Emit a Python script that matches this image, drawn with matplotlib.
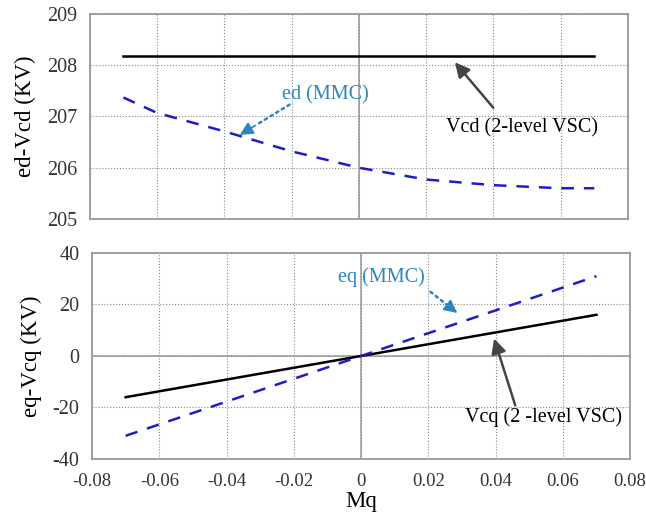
import numpy as np
import matplotlib.pyplot as plt

plt.rcParams['font.family'] = ['Liberation Serif', 'DejaVu Serif']
plt.rcParams['axes.unicode_minus'] = False

# data
mq = [-0.07, -0.06, -0.04, -0.02, 0.0, 0.02, 0.04, 0.06, 0.07]
ed_mmc = [207.37, 207.07, 206.71, 206.32, 206.0, 205.77, 205.66, 205.6, 205.6]
vcd_2l = [208.18] * len(mq)

mq_q = [-0.07, 0.07]
eq_mmc = [-31, 31]
vcq_2l = [-16, 16]

xticks = [-0.08, -0.06, -0.04, -0.02, 0, 0.02, 0.04, 0.06, 0.08]
xlabels = ['-0.08', '-0.06', '-0.04', '-0.02', '0', '0.02', '0.04', '0.06', '0.08']

blue = '#1c1cc8'
teal = '#2a86bd'
arrow_gray = '#444444'

fig = plt.figure(figsize=(6.46, 5.16), dpi=100)
ax1 = fig.add_axes([0.139, 0.5756, 0.833, 0.3973])
ax2 = fig.add_axes([0.1424, 0.1105, 0.833, 0.3992])


def style(ax):
    ax.set_xlim(-0.08, 0.08)
    ax.set_xticks(xticks)
    ax.grid(True, color='#888888', linestyle=':', linewidth=0.8)
    ax.axvline(0, color='#aaaaaa', lw=1.3, zorder=1)
    for s in ax.spines.values():
        s.set_color('#999999')
        s.set_linewidth(1.3)
    ax.tick_params(length=0, labelsize=14.5, labelcolor='#333333')
    ax.tick_params(axis='y', pad=9)
    ax.tick_params(axis='x', pad=10, labelsize=13.5)


def dotted_arrow(ax, tip, tail, color):
    # dotted shaft plus a solid head
    k = 0.3
    mid = (tip[0] + (tail[0] - tip[0]) * k, tip[1] + (tail[1] - tip[1]) * k)
    ax.annotate('', xy=mid, xytext=tail,
                arrowprops=dict(arrowstyle='-', color=color, lw=1.8, ls=':'))
    ax.annotate('', xy=tip, xytext=mid,
                arrowprops=dict(arrowstyle='-|>', color=color, lw=1.2,
                                mutation_scale=20, shrinkA=0, shrinkB=0))


style(ax1)
ax1.set_ylim(205, 209)
ax1.set_yticks([205, 206, 207, 208, 209])
ax1.set_xticklabels([])
ax1.plot(mq, vcd_2l, color='black', lw=1.8)
ax1.plot(mq, ed_mmc, color=blue, lw=1.8, dashes=(5, 4))
ax1.set_ylabel('ed-Vcd (KV)', fontsize=16.5, labelpad=8)

dotted_arrow(ax1, (-0.0354, 206.64), (-0.0199, 207.26), teal)
ax1.text(-0.0101, 207.42, 'ed (MMC)', color=teal, fontsize=14.5, ha='center', va='center')
ax1.annotate('', xy=(0.028, 208.1), xytext=(0.0405, 207.13),
             arrowprops=dict(arrowstyle='-|>', color=arrow_gray, lw=1.8,
                             mutation_scale=22))
ax1.text(0.0485, 206.78, 'Vcd (2-level VSC)', color='black', fontsize=14.5,
         ha='center', va='center')

style(ax2)
ax2.set_ylim(-40, 40)
ax2.set_yticks([-40, -20, 0, 20, 40])
ax2.set_xticklabels(xlabels)
ax2.axhline(0, color='#aaaaaa', lw=1.3, zorder=1)
ax2.plot(mq_q, vcq_2l, color='black', lw=1.8)
ax2.plot(mq_q, eq_mmc, color=blue, lw=1.8, dashes=(5, 4))
ax2.set_ylabel('eq-Vcq (KV)', fontsize=16.5, labelpad=8)
ax2.set_xlabel('Mq', fontsize=16.5, labelpad=1)

dotted_arrow(ax2, (0.0286, 16.7), (0.02, 25.6), teal)
ax2.text(0.006, 30.7, 'eq (MMC)', color=teal, fontsize=14.5, ha='center', va='center')
ax2.annotate('', xy=(0.0393, 7.8), xytext=(0.0461, -20.2),
             arrowprops=dict(arrowstyle='-|>', color=arrow_gray, lw=1.8,
                             mutation_scale=22))
ax2.text(0.0541, -23.7, 'Vcq (2 -level VSC)', color='black', fontsize=14.5,
         ha='center', va='center')

fig.savefig('out.png', dpi=100)
